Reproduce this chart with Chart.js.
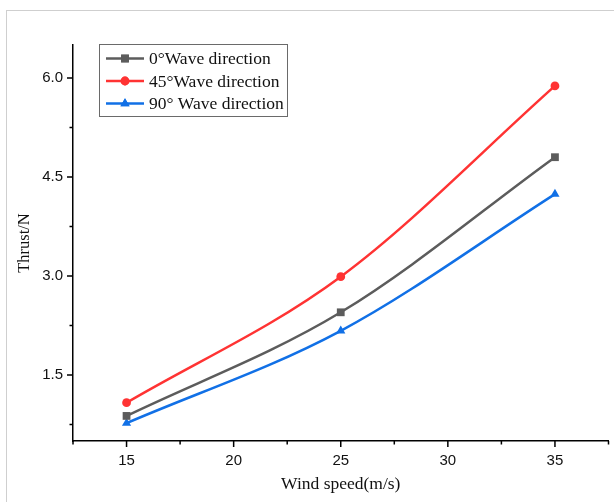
<!DOCTYPE html>
<html>
<head>
<meta charset="utf-8">
<script src="https://cdn.jsdelivr.net/npm/chart.js@4.4.1/dist/chart.umd.min.js"></script>
<style>
  html, body { margin: 0; padding: 0; background: #fff; }
  #wrap { position: relative; width: 614px; height: 502px; overflow: hidden; }
  #frame { position: absolute; left: 6px; top: 10px; width: 620px; height: 500px;
           border-top: 1px solid #cfcfcf; border-left: 1px solid #cfcfcf; }
  canvas { position: absolute; left: 0; top: 0; }
</style>
</head>
<body>
<div id="wrap">
  <div id="frame"></div>
  <canvas id="thrustChart" width="614" height="502"></canvas>
</div>
<script>
const windSpeed = [15, 25, 35];
const thrust0 = [0.88, 2.45, 4.80];
const thrust45 = [1.08, 2.99, 5.88];
const thrust90 = [0.77, 2.17, 4.24];
const xTicks = [15, 20, 25, 30, 35];
const xMinorTicks = [12.5, 17.5, 22.5, 27.5, 32.5, 37.5];
const yTicks = [1.5, 3.0, 4.5, 6.0];
const yMinorTicks = [0.75, 2.25, 3.75, 5.25];
const seriesLabels = ['0°Wave direction', '45°Wave direction', '90° Wave direction'];
const seriesColors = ['#5c5c5c', '#ff3333', '#1170e6'];
const seriesMarkers = ['rect', 'circle', 'triangle'];
const markerSizes = [5.5, 4.4, 5.3];

const SERIF = '"Liberation Serif", "Times New Roman", serif';
const SANS = '"Liberation Sans", Arial, sans-serif';

function toPoints(values) {
  return windSpeed.map((x, i) => ({ x: x, y: values[i] }));
}

const allSeries = [thrust0, thrust45, thrust90];
const datasets = allSeries.map((values, i) => ({
  label: seriesLabels[i],
  data: toPoints(values),
  borderColor: seriesColors[i],
  backgroundColor: seriesColors[i],
  borderWidth: 2.5,
  pointStyle: seriesMarkers[i],
  pointRadius: markerSizes[i],
  pointBorderWidth: 0,
  cubicInterpolationMode: 'monotone',
  clip: false
}));

// axis ticks: long for labelled values, short for the in-between ones
const tickMarks = {
  id: 'tickMarks',
  afterDraw(chart) {
    const ctx = chart.ctx;
    const xs = chart.scales.x;
    const ys = chart.scales.y;
    const area = chart.chartArea;
    ctx.save();
    ctx.strokeStyle = '#000';
    ctx.lineWidth = 1.5;
    ctx.beginPath();
    xTicks.forEach(v => {
      const px = xs.getPixelForValue(v);
      ctx.moveTo(px, area.bottom); ctx.lineTo(px, area.bottom + 6);
    });
    xMinorTicks.forEach(v => {
      const px = xs.getPixelForValue(v);
      ctx.moveTo(px, area.bottom); ctx.lineTo(px, area.bottom + 3.5);
    });
    yTicks.forEach(v => {
      const py = ys.getPixelForValue(v);
      ctx.moveTo(area.left, py); ctx.lineTo(area.left - 6, py);
    });
    yMinorTicks.forEach(v => {
      const py = ys.getPixelForValue(v);
      ctx.moveTo(area.left, py); ctx.lineTo(area.left - 3.5, py);
    });
    ctx.stroke();
    ctx.restore();
  }
};

// boxed legend in the upper left of the plot
const boxLegend = {
  id: 'boxLegend',
  afterDraw(chart) {
    const ctx = chart.ctx;
    const left = 99, top = 44, width = 188, height = 72;
    ctx.save();
    ctx.strokeStyle = '#6a6a6a';
    ctx.lineWidth = 1;
    ctx.strokeRect(left + 0.5, top + 0.5, width, height);
    ctx.font = '17.5px ' + SERIF;
    ctx.textBaseline = 'middle';
    chart.data.datasets.forEach((ds, i) => {
      const y = top + 14.5 + i * 22.5;
      ctx.strokeStyle = ds.borderColor;
      ctx.lineWidth = 2.5;
      ctx.beginPath();
      ctx.moveTo(106, y); ctx.lineTo(144, y);
      ctx.stroke();
      ctx.fillStyle = ds.backgroundColor;
      Chart.helpers.drawPoint(ctx, { pointStyle: ds.pointStyle, radius: ds.pointRadius, borderWidth: 0, rotation: 0 }, 125, y);
      ctx.fill();
      ctx.fillStyle = '#111';
      ctx.fillText(ds.label, 149, y + 1);
    });
    ctx.restore();
  }
};

new Chart(document.getElementById('thrustChart'), {
  type: 'line',
  data: { datasets: datasets },
  options: {
    responsive: false,
    animation: false,
    layout: { padding: { top: 45, right: 5.5, left: 0, bottom: 0 } },
    plugins: {
      legend: { display: false },
      tooltip: { enabled: false }
    },
    scales: {
      x: {
        type: 'linear',
        min: 12.5,
        max: 37.5,
        afterFit(scale) { scale.height = 61; },
        afterBuildTicks(scale) { scale.ticks = xTicks.map(v => ({ value: v })); },
        grid: { display: false, drawTicks: false },
        border: { display: true, color: '#000', width: 1.5 },
        ticks: {
          padding: 11,
          color: '#111',
          font: { family: SANS, size: 15 },
          callback: v => String(v)
        },
        title: {
          display: true,
          text: 'Wind speed(m/s)',
          color: '#111',
          font: { family: SERIF, size: 17.5 },
          padding: { top: 0, bottom: 7 }
        }
      },
      y: {
        type: 'linear',
        min: 0.5,
        max: 6.5,
        afterFit(scale) { scale.width = 73; },
        afterBuildTicks(scale) { scale.ticks = yTicks.map(v => ({ value: v })); },
        grid: { display: false, drawTicks: false },
        border: { display: true, color: '#000', width: 1.5 },
        ticks: {
          padding: 10,
          color: '#111',
          font: { family: SANS, size: 15 },
          callback: v => Number(v).toFixed(1)
        },
        title: {
          display: true,
          text: 'Thrust/N',
          color: '#111',
          font: { family: SERIF, size: 16.5 },
          padding: { top: 15, bottom: 0 }
        }
      }
    }
  },
  plugins: [tickMarks, boxLegend]
});
</script>
</body>
</html>
